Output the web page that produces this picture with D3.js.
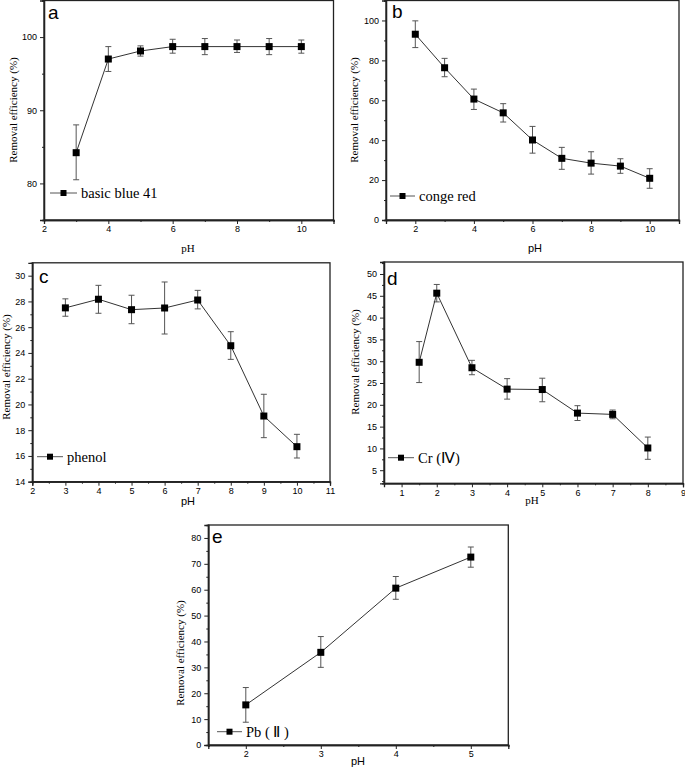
<!DOCTYPE html>
<html><head><meta charset="utf-8">
<script src="https://cdn.jsdelivr.net/npm/d3@7"></script>
<style>
html,body{margin:0;padding:0;background:#fff;}
svg{display:block;}
.tick text{font-family:Arial,"Liberation Sans",sans-serif;font-size:9px;fill:#000;}
</style></head>
<body>
<svg id="chart" width="685" height="777"></svg>
<script>
// ---- data ----
const phA = [3,4,5,6,7,8,9,10];
const effA = [84.2,97.0,98.1,98.7,98.7,98.7,98.7,98.7];
const loA = [80.5,95.3,97.4,97.8,97.6,97.9,97.6,97.8];
const hiA = [88.0,98.7,98.8,99.7,99.8,99.6,99.8,99.6];

const phB = [2,3,4,5,6,7,8,9,10];
const effB = [93.1,76.3,60.6,53.7,40.1,30.9,28.5,27.0,20.9];
const loB = [86.4,71.8,55.4,49.1,33.5,25.4,23.0,23.4,15.9];
const hiB = [99.8,81.0,65.6,58.3,46.9,36.4,34.2,30.7,25.7];

const phC = [3,4,5,6,7,8,9,10];
const effC = [27.5,28.17,27.36,27.49,28.11,24.56,19.1,16.72];
const loC = [26.85,27.08,26.27,25.47,27.42,23.5,17.42,15.84];
const hiC = [28.2,29.25,28.48,29.51,28.86,25.65,20.79,17.68];

const phD = [1.5,2,3,4,5,6,7,8];
const effD = [29.75,45.6,28.5,23.6,23.5,18.1,17.8,10.1];
const loD = [25.1,43.6,26.9,21.3,20.7,16.4,16.8,7.5];
const hiD = [34.5,47.6,30.2,26.0,26.1,19.8,18.8,12.6];

const phE = [2,3,4,5];
const effE = [15.5,35.8,60.6,72.6];
const loE = [8.8,30.0,56.3,68.7];
const hiE = [22.2,41.9,65.1,76.5];

const seriesNames = ["basic blue 41","conge red","phenol","Cr (\u2163)","Pb ( \u2161 )"];
const panelLetters = ["a","b","c","d","e"];
const yTitle = "Removal efficiency (%)";
const xTitle = "pH";

const xMajorA = [2,4,6,8,10], xMinorA = [3,5,7,9,11];
const yMajorA = [80,90,100], yMinorA = [75,85,95,105];
const xMajorB = [2,4,6,8,10], xMinorB = [1,3,5,7,9,11];
const yMajorB = [0,20,40,60,80,100], yMinorB = [10,30,50,70,90,110];
const xMajorC = [2,3,4,5,6,7,8,9,10,11], xMinorC = [2.5,3.5,4.5,5.5,6.5,7.5,8.5,9.5,10.5];
const yMajorC = [14,16,18,20,22,24,26,28,30], yMinorC = [15,17,19,21,23,25,27,29];
const xMajorD = [1,2,3,4,5,6,7,8,9], xMinorD = [0.5,1.5,2.5,3.5,4.5,5.5,6.5,7.5,8.5];
const yMajorD = [5,10,15,20,25,30,35,40,45,50], yMinorD = [2.5,7.5,12.5,17.5,22.5,27.5,32.5,37.5,42.5,47.5,52.5];
const xMajorE = [2,3,4,5], xMinorE = [1.5,2.5,3.5,4.5,5.5];
const yMajorE = [0,10,20,30,40,50,60,70,80], yMinorE = [5,15,25,35,45,55,65,75,85];

// ---- layout ----
const SERIF = "'Liberation Serif','Times New Roman',serif";
const SANS = "Arial,'Liberation Sans',sans-serif";
const panels = [
  {ph:phA, eff:effA, lo:loA, hi:hiA, xd:[2,11], yd:[75,105], xMaj:xMajorA, xMin:xMinorA, yMaj:yMajorA, yMin:yMinorA,
   box:{l:44,r:333.5,t:0.5,b:220}, letter:[48,19], leg:[50,77,193], xt:[188,252,SERIF], yt:[13,110]},
  {ph:phB, eff:effB, lo:loB, hi:hiB, xd:[1,11], yd:[0,110], xMaj:xMajorB, xMin:xMinorB, yMaj:yMajorB, yMin:yMinorB,
   box:{l:386,r:679,t:0.5,b:220}, letter:[392,18], leg:[390,415,196], xt:[535,252,SANS], yt:[354,110]},
  {ph:phC, eff:effC, lo:loC, hi:hiC, xd:[2,11], yd:[14,31], xMaj:xMajorC, xMin:xMinorC, yMaj:yMajorC, yMin:yMinorC,
   box:{l:32.3,r:330,t:262.8,b:481.7}, letter:[39,283], leg:[37,63,456.7], xt:[188,505,SANS], yt:[6,367]},
  {ph:phD, eff:effD, lo:loD, hi:hiD, xd:[0.5,9], yd:[2,52.75], xMaj:xMajorD, xMin:xMinorD, yMaj:yMajorD, yMin:yMinorD,
   box:{l:384,r:683,t:262,b:483.3}, letter:[387,285], leg:[388,414,457.7], xt:[532,504,SERIF], yt:[355,362]},
  {ph:phE, eff:effE, lo:loE, hi:hiE, xd:[1.5,5.5], yd:[0,85], xMaj:xMajorE, xMin:xMinorE, yMaj:yMajorE, yMin:yMinorE,
   box:{l:208.3,r:508.3,t:525,b:745}, letter:[212,543], leg:[217,242,731.7], xt:[358,765,SANS], yt:[180,653]}
];

const svg = d3.select("#chart");

panels.forEach((p, i) => {
  const g = svg.append("g");
  const x = d3.scaleLinear().domain(p.xd).range([p.box.l, p.box.r]);
  const y = d3.scaleLinear().domain(p.yd).range([p.box.b, p.box.t]);

  // frame
  g.append("rect").attr("x", p.box.l).attr("y", p.box.t)
    .attr("width", p.box.r - p.box.l).attr("height", p.box.b - p.box.t)
    .attr("fill", "none").attr("stroke", "#222").attr("stroke-width", 1.3);

  // axes
  const xAx = g.append("g").attr("transform", `translate(0,${p.box.b})`)
    .call(d3.axisBottom(x).tickValues(p.xMaj).tickSize(4).tickPadding(2).tickFormat(d3.format("d")));
  const xMinAx = g.append("g").attr("transform", `translate(0,${p.box.b})`)
    .call(d3.axisBottom(x).tickValues(p.xMin).tickSize(2).tickFormat(""));
  const yAx = g.append("g").attr("transform", `translate(${p.box.l},0)`)
    .call(d3.axisLeft(y).tickValues(p.yMaj).tickSize(4).tickPadding(3).tickFormat(d3.format("d")));
  const yMinAx = g.append("g").attr("transform", `translate(${p.box.l},0)`)
    .call(d3.axisLeft(y).tickValues(p.yMin).tickSize(2).tickFormat(""));
  [xAx, xMinAx, yAx, yMinAx].forEach(a => {
    a.select(".domain").attr("stroke", "#222").attr("stroke-width", 1.3);
    a.selectAll(".tick line").attr("stroke", "#222").attr("stroke-width", 1);
  });
  [xMinAx, yMinAx].forEach(a => a.selectAll(".tick").filter(d => !(d >= Math.min(...p.xd.concat(p.yd)) )).remove());

  // error bars
  const eb = g.append("g").attr("stroke", "#555").attr("stroke-width", 1);
  p.ph.forEach((v, k) => {
    const cx = x(v);
    eb.append("line").attr("x1", cx).attr("x2", cx).attr("y1", y(p.lo[k])).attr("y2", y(p.hi[k]));
    eb.append("line").attr("x1", cx - 3).attr("x2", cx + 3).attr("y1", y(p.lo[k])).attr("y2", y(p.lo[k]));
    eb.append("line").attr("x1", cx - 3).attr("x2", cx + 3).attr("y1", y(p.hi[k])).attr("y2", y(p.hi[k]));
  });

  // line
  const line = d3.line().x((d, k) => x(p.ph[k])).y(d => y(d));
  g.append("path").datum(p.eff).attr("d", line).attr("fill", "none")
    .attr("stroke", "#333").attr("stroke-width", 1);

  // markers
  g.selectAll("rect.m").data(p.eff).join("rect").attr("class", "m")
    .attr("x", (d, k) => x(p.ph[k]) - 3.5).attr("y", d => y(d) - 3.5)
    .attr("width", 7).attr("height", 7).attr("fill", "#000");

  // legend
  const [lx1, lx2, ly] = p.leg;
  g.append("line").attr("x1", lx1).attr("x2", lx2).attr("y1", ly).attr("y2", ly)
    .attr("stroke", "#555").attr("stroke-width", 1);
  g.append("rect").attr("x", (lx1 + lx2) / 2 - 3).attr("y", ly - 3).attr("width", 6).attr("height", 6).attr("fill", "#000");
  g.append("text").attr("x", lx2 + 4).attr("y", ly + 5)
    .attr("font-family", SERIF).attr("font-size", 14.5).attr("fill", "#000").text(seriesNames[i]);

  // panel letter
  g.append("text").attr("x", p.letter[0]).attr("y", p.letter[1])
    .attr("font-family", SANS).attr("font-size", 19).attr("fill", "#000").text(panelLetters[i]);

  // axis titles
  g.append("text").attr("x", p.xt[0]).attr("y", p.xt[1]).attr("text-anchor", "middle")
    .attr("font-family", p.xt[2]).attr("font-size", 11).attr("fill", "#000").text(xTitle);
  g.append("text").attr("transform", `translate(${p.yt[0]},${p.yt[1]}) rotate(-90)`)
    .attr("text-anchor", "middle").attr("dominant-baseline", "central")
    .attr("font-family", SERIF).attr("font-size", 11).attr("fill", "#000").text(yTitle);
});
</script>
</body></html>
